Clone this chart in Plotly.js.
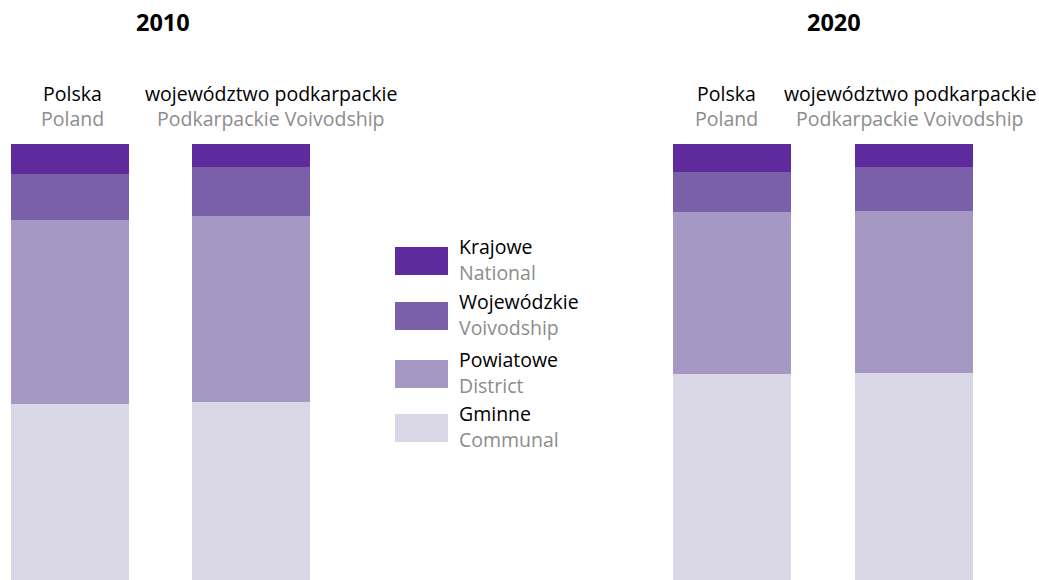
<!DOCTYPE html>
<html><head><meta charset="utf-8">
<script src="https://cdn.plot.ly/plotly-3.0.1.min.js"></script>
<style>html,body{margin:0;padding:0;background:#fff;}#chart{width:1039px;height:580px;}</style>
</head><body><div id="chart"></div>
<script>
// Categories
const regions = ["Polska", "województwo podkarpackie"];
const regionsEn = ["Poland", "Podkarpackie Voivodship"];
const years = ["2010", "2020"];
// Series names (Polish / English)
const seriesPl = ["Krajowe", "Wojewódzkie", "Powiatowe", "Gminne"];
const seriesEn = ["National", "Voivodship", "District", "Communal"];
// Shares of road length (%) : [Polska, podkarpackie]
const gminne2010 = [40.4, 40.8];
const powiatowe2010 = [42.2, 42.7];
const wojewodzkie2010 = [10.5, 11.2];
const krajowe2010 = [6.9, 5.3];
const gminne2020 = [47.2, 47.5];
const powiatowe2020 = [37.2, 37.2];
const wojewodzkie2020 = [9.2, 10.1];
const krajowe2020 = [6.4, 5.2];

const colors = ["#5e2a9c", "#7a5fa9", "#a599c3", "#dad7e6"]; // National, Voiv, District, Communal
const grey = "#8c8c8c";
const FONT = "'Open Sans', 'Noto Sans', sans-serif";
const FS = 19.5;
const H = 436, TOP = 144;
const py = p => 1 - (p - TOP) / H; // pixel row -> paper y

const data2010 = [krajowe2010, wojewodzkie2010, powiatowe2010, gminne2010];
const data2020 = [krajowe2020, wojewodzkie2020, powiatowe2020, gminne2020];

const traces = [];
// stack order bottom -> top: Gminne, Powiatowe, Wojewódzkie, Krajowe
[3, 2, 1, 0].forEach(i => {
  traces.push({type: "bar", x: regions, y: data2010[i], xaxis: "x", yaxis: "y",
    marker: {color: colors[i]}, name: seriesPl[i], showlegend: false, hoverinfo: "x+y+name"});
  traces.push({type: "bar", x: regions, y: data2020[i], xaxis: "x2", yaxis: "y",
    marker: {color: colors[i]}, name: seriesPl[i], showlegend: false, hoverinfo: "x+y+name"});
});

const annotations = [];
const shapes = [];
// year titles
annotations.push({text: "<b>" + years[0] + "</b>", xref: "paper", yref: "paper", x: 163/1039, y: py(22),
  xanchor: "center", yanchor: "middle", showarrow: false, font: {family: FONT, size: 23.5, color: "#000"}});
annotations.push({text: "<b>" + years[1] + "</b>", xref: "paper", yref: "paper", x: 834/1039, y: py(22),
  xanchor: "center", yanchor: "middle", showarrow: false, font: {family: FONT, size: 23.5, color: "#000"}});

// region labels above bars
const shifts = [[2, 20], [-6, -4]];
["x", "x2"].forEach((ax, k) => {
  regions.forEach((r, j) => {
    annotations.push({text: r, xref: ax, yref: "paper", x: r, y: py(93), xshift: shifts[k][j],
      xanchor: "center", yanchor: "middle", showarrow: false,
      font: {family: FONT, size: FS, color: "#000"}});
    annotations.push({text: regionsEn[j], xref: ax, yref: "paper", x: r, y: py(118), xshift: shifts[k][j],
      xanchor: "center", yanchor: "middle", showarrow: false,
      font: {family: FONT, size: FS, color: grey}});
  });
});

// legend drawn manually
const legTop = [247, 302, 360, 414];
seriesPl.forEach((s, i) => {
  const y0 = legTop[i];
  shapes.push({type: "rect", xref: "paper", yref: "paper",
    x0: 395/1039, x1: 448/1039, y0: py(y0), y1: py(y0 + 28),
    fillcolor: colors[i], line: {width: 0}});
  annotations.push({text: s, xref: "paper", yref: "paper", x: 457/1039, y: py(y0 - 1),
    xanchor: "left", yanchor: "middle", showarrow: false,
    font: {family: FONT, size: FS, color: "#000"}});
  annotations.push({text: seriesEn[i], xref: "paper", yref: "paper", x: 457/1039, y: py(y0 + 25),
    xanchor: "left", yanchor: "middle", showarrow: false,
    font: {family: FONT, size: FS, color: grey}});
});

const layout = {
  width: 1039, height: 580,
  margin: {l: 0, r: 0, t: TOP, b: 0},
  paper_bgcolor: "#fff", plot_bgcolor: "#fff",
  barmode: "stack", bargap: 0.348,
  showlegend: false,
  xaxis: {domain: [0, 0.33], range: [-70/181, -70/181 + 0.33*1039/181], type: "category",
    showticklabels: false, showgrid: false, zeroline: false, showline: false, ticks: ""},
  xaxis2: {domain: [0.6, 1], range: [-(732 - 0.6*1039)/182, (1039 - 732)/182], type: "category",
    showticklabels: false, showgrid: false, zeroline: false, showline: false, ticks: ""},
  yaxis: {range: [0, 100], showticklabels: false, showgrid: false, zeroline: false, showline: false, ticks: ""},
  annotations: annotations,
  shapes: shapes
};

Plotly.newPlot("chart", traces, layout, {displayModeBar: false, staticPlot: true});
</script>
</body></html>
